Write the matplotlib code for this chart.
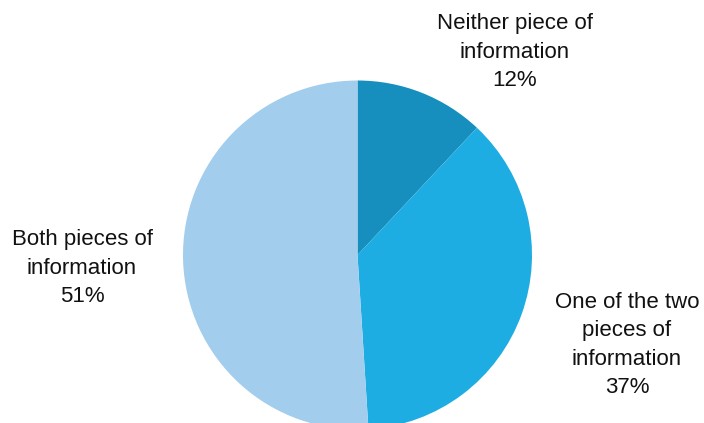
import matplotlib
matplotlib.use("Agg")
import matplotlib.pyplot as plt

# Share of respondents by pieces of information received
categories = ["Neither piece of\ninformation", "One of the two\npieces of\ninformation", "Both pieces of\ninformation"]
shares = [12, 37, 51]
colors = ["#168fbe", "#1eade2", "#a3cdec"]

W, H = 704, 423
fig = plt.figure(figsize=(W / 100, H / 100), dpi=100)
ax = fig.add_axes([0, 0, 1, 1])

cx, cy, r = 357.5, H - 255, 174.5
ax.pie(shares, colors=colors, startangle=90, counterclock=False,
       center=(cx, cy), radius=r, frame=True,
       wedgeprops=dict(linewidth=0))
ax.set_xlim(0, W)
ax.set_ylim(0, H)
ax.set_aspect("equal")
ax.axis("off")

label_pos = [(515, 52), (627, 345), (82, 268)]
for cat, val, (x, y) in zip(categories, shares, label_pos):
    ax.text(x, H - y, f"{cat}\n{val}%", ha="center", va="center",
            fontsize=16, family="Liberation Sans", color="#111111",
            linespacing=1.44)

fig.savefig("out.png", dpi=100)
